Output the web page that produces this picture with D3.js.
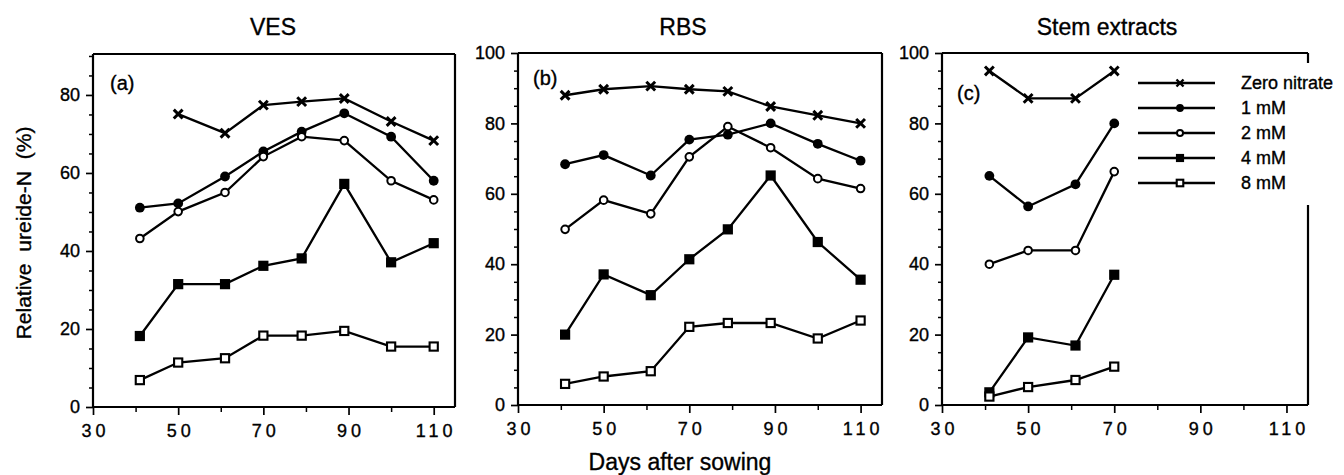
<!DOCTYPE html>
<html><head><meta charset="utf-8">
<script src="https://cdn.jsdelivr.net/npm/d3@7"></script>
<style>
body{margin:0;background:#fff}
svg{display:block}
text{font-family:"Liberation Sans",Arial,Helvetica,sans-serif;fill:#000;stroke:#000;stroke-width:0.35px}
</style>
</head><body>
<svg id="chart" width="1344" height="475"></svg>
<script>
// ---------- DATA ----------
const days = [41, 50, 61, 70, 79, 89, 100, 110];
const stemDays = [41, 50, 61, 70];
const seriesNames = ["Zero nitrate", "1 mM", "2 mM", "4 mM", "8 mM"];

const vesZero = [null, 75.1, 70.2, 77.4, 78.3, 79.1, 73.2, 68.3];
const ves1 = [51.1, 52.2, 59.1, 65.5, 70.6, 75.3, 69.3, 58.0];
const ves2 = [43.2, 50.1, 55.0, 64.2, 69.3, 68.3, 58.0, 53.1];
const ves4 = [18.2, 31.5, 31.5, 36.2, 38.1, 57.2, 37.1, 42.0];
const ves8 = [6.9, 11.4, 12.5, 18.3, 18.3, 19.5, 15.5, 15.5];

const rbsZero = [88.0, 89.7, 90.6, 89.7, 89.1, 84.8, 82.3, 80.0];
const rbs1 = [68.4, 71.0, 65.2, 75.4, 76.8, 80.0, 74.2, 69.4];
const rbs2 = [49.9, 58.2, 54.3, 70.5, 79.1, 73.1, 64.3, 61.5];
const rbs4 = [20.0, 37.1, 31.2, 41.4, 49.9, 65.2, 46.3, 35.6];
const rbs8 = [6.0, 8.1, 9.6, 22.2, 23.3, 23.3, 18.9, 24.0];

const stemZero = [94.9, 87.1, 87.1, 94.9];
const stem1 = [65.1, 56.4, 62.7, 80.0];
const stem2 = [40.0, 43.9, 43.9, 66.3];
const stem4 = [3.6, 19.2, 16.9, 37.0];
const stem8 = [2.4, 5.1, 7.1, 10.9];

const xTicks = [30, 50, 70, 90, 110];
const xMinorTicks = [40, 60, 80, 100];
const yTicks = [0, 20, 40, 60, 80, 100];
const panelTitles = ["VES", "RBS", "Stem extracts"];
const panelLetters = ["(a)", "(b)", "(c)"];
const xLabel = "Days after sowing";
const yLabel = "Relative ureide-N (%)";

// ---------- LAYOUT ----------
const panels = [
  {x: days, s: [vesZero, ves1, ves2, ves4, ves8], l: 93, r: 455, b: 407, t: 54, ymax: 90.5,
   tx: 273, lx: 110, ly: 90},
  {x: days, s: [rbsZero, rbs1, rbs2, rbs4, rbs8], l: 518, r: 882, b: 405, t: 53, ymax: 100,
   tx: 683, lx: 533, ly: 85},
  {x: stemDays, s: [stemZero, stem1, stem2, stem4, stem8], l: 942, r: 1308, b: 405, t: 53, ymax: 100,
   tx: 1107, lx: 957, ly: 100, gap: [63, 205]}
];

const svg = d3.select("#chart");

function marker(g, type, k) {
  k = k || 1;
  if (type === 0) {
    const a = 4.4 * k;
    g.append("path").attr("d", `M${-a},${-a}L${a},${a}M${-a},${a}L${a},${-a}`)
      .attr("stroke", "#000").attr("stroke-width", 3 * k).attr("fill", "none");
  } else if (type === 1) {
    g.append("circle").attr("r", 4.9 * k).attr("fill", "#000");
  } else if (type === 2) {
    g.append("circle").attr("r", 3.8 * k).attr("fill", "#fff").attr("stroke", "#000").attr("stroke-width", 2);
  } else if (type === 3) {
    const a = 5.1 * k;
    g.append("rect").attr("x", -a).attr("y", -a).attr("width", 2 * a).attr("height", 2 * a).attr("fill", "#000");
  } else {
    const a = 4.1 * k;
    g.append("rect").attr("x", -a).attr("y", -a).attr("width", 2 * a).attr("height", 2 * a)
      .attr("fill", "#fff").attr("stroke", "#000").attr("stroke-width", 2.1);
  }
}

panels.forEach((p, pi) => {
  const x = d3.scaleLinear().domain([30, 115]).range([p.l, p.r]);
  const y = d3.scaleLinear().domain([0, p.ymax]).range([p.b, p.t]);
  const g = svg.append("g");

  svg.append("text").attr("x", p.tx).attr("y", 35).attr("text-anchor", "middle")
    .attr("font-size", 23).text(panelTitles[pi]);
  g.append("text").attr("x", p.lx).attr("y", p.ly).attr("font-size", 20).text(panelLetters[pi]);

  const ya = g.append("g").attr("transform", `translate(${p.l},0)`)
    .call(d3.axisLeft(y).tickValues(yTicks.filter(v => v <= p.ymax)).tickSize(7).tickPadding(6));
  ya.select(".domain").remove();
  ya.selectAll("line").attr("stroke-width", 1.7);
  ya.selectAll("text").attr("font-size", 18).attr("font-family", null);
  const ym = g.append("g").attr("transform", `translate(${p.l},0)`)
    .call(d3.axisLeft(y).tickValues(d3.range(5, p.ymax, 5).filter(v => v % 20 !== 0)).tickSize(4).tickFormat(""));
  ym.select(".domain").remove();
  ym.selectAll("line").attr("stroke-width", 1.5);

  const xa = g.append("g").attr("transform", `translate(0,${p.b})`)
    .call(d3.axisBottom(x).tickValues(xTicks).tickSize(8).tickPadding(9));
  xa.select(".domain").remove();
  xa.selectAll("line").attr("stroke-width", 1.7);
  xa.selectAll("text").attr("font-size", 18).attr("font-family", null)
    .attr("letter-spacing", "4px").attr("dx", 2);
  const xm = g.append("g").attr("transform", `translate(0,${p.b})`)
    .call(d3.axisBottom(x).tickValues(xMinorTicks).tickSize(5).tickFormat(""));
  xm.select(".domain").remove();
  xm.selectAll("line").attr("stroke-width", 1.5);

  const fr = g.append("g").attr("stroke", "#000").attr("stroke-width", 2.2).attr("fill", "none");
  fr.append("line").attr("x1", p.l).attr("x2", p.l).attr("y1", p.t).attr("y2", p.b);
  fr.append("line").attr("x1", p.l).attr("x2", p.r).attr("y1", p.b).attr("y2", p.b);
  fr.append("line").attr("x1", p.l).attr("x2", p.r).attr("y1", p.t).attr("y2", p.t);
  if (p.gap) {
    fr.append("line").attr("x1", p.r).attr("x2", p.r).attr("y1", p.t).attr("y2", p.gap[0]);
    fr.append("line").attr("x1", p.r).attr("x2", p.r).attr("y1", p.gap[1]).attr("y2", p.b);
  } else {
    fr.append("line").attr("x1", p.r).attr("x2", p.r).attr("y1", p.t).attr("y2", p.b);
  }

  const line = d3.line().defined(d => d[1] != null).x(d => x(d[0])).y(d => y(d[1]));
  p.s.forEach((vals) => {
    const pts = p.x.map((d, i) => [d, vals[i]]);
    g.append("path").datum(pts).attr("d", line).attr("fill", "none")
      .attr("stroke", "#000").attr("stroke-width", 2.3);
  });
  p.s.forEach((vals, si) => {
    p.x.forEach((d, i) => {
      if (vals[i] == null) return;
      marker(g.append("g").attr("transform", `translate(${x(d)},${y(vals[i])})`), si);
    });
  });

  if (pi === 2) {
    const lg = g.append("g");
    seriesNames.forEach((name, i) => {
      const ry = 83 + i * 25;
      lg.append("line").attr("x1", 1138).attr("x2", 1215).attr("y1", ry).attr("y2", ry)
        .attr("stroke", "#000").attr("stroke-width", 2.3);
      marker(lg.append("g").attr("transform", `translate(1180,${ry})`), i, 0.8);
      lg.append("text").attr("x", 1241).attr("y", ry).attr("dy", "0.36em")
        .attr("font-size", 18).text(name);
    });
  }
});

svg.append("text").attr("x", 680).attr("y", 470).attr("text-anchor", "middle")
  .attr("font-size", 23).text(xLabel);
svg.append("text").attr("transform", "translate(31,233) rotate(-90)").attr("text-anchor", "middle")
  .attr("font-size", 21).attr("word-spacing", "6px").text(yLabel);
</script>
</body></html>
